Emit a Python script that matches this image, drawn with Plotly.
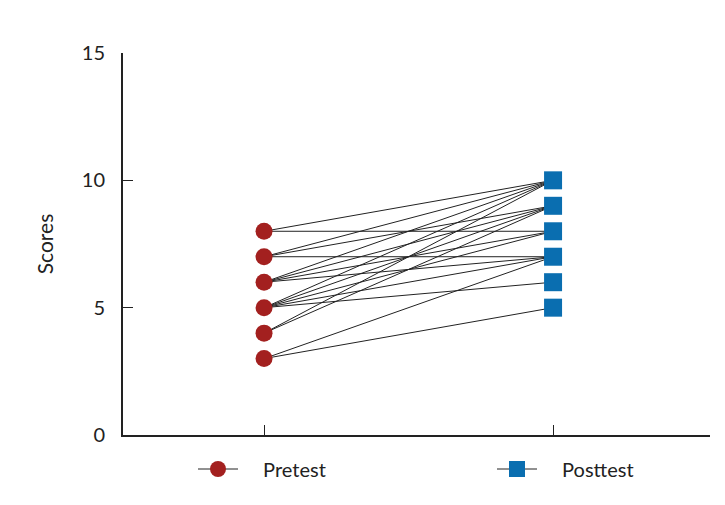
import plotly.graph_objects as go

# Data: paired pretest -> posttest scores
groups = ["Pretest", "Posttest"]
pre_scores = [8, 8, 7, 7, 7, 6, 6, 6, 6, 5, 5, 5, 5, 5, 4, 4, 3, 3]
post_scores = [10, 8, 10, 9, 7, 10, 9, 8, 7, 10, 9, 8, 7, 6, 10, 9, 7, 5]
y_ticks = [0, 5, 10, 15]

RED = "#A3201F"
BLUE = "#0A6EB0"
FONT = "Lato"
GAP = "\u2003\u00a0"

fig = go.Figure()

# connecting lines
lx, ly = [], []
for a, b in zip(pre_scores, post_scores):
    lx += [0, 1, None]
    ly += [a, b, None]
fig.add_trace(go.Scatter(x=lx, y=ly, mode="lines",
                         line=dict(color="#222222", width=1),
                         showlegend=False, hoverinfo="skip"))

pre_u = sorted(set(pre_scores))
post_u = sorted(set(post_scores))
fig.add_trace(go.Scatter(x=[0] * len(pre_u), y=pre_u, mode="markers",
                         marker=dict(symbol="circle", size=17, color=RED),
                         showlegend=False))
fig.add_trace(go.Scatter(x=[1] * len(post_u), y=post_u, mode="markers",
                         marker=dict(symbol="square", size=18, color=BLUE),
                         showlegend=False))

# legend entries
fig.add_trace(go.Scatter(x=[None], y=[None], mode="lines+markers", name=GAP + groups[0],
                         line=dict(color="#222222", width=1), legend="legend",
                         marker=dict(symbol="circle", size=17, color=RED)))
fig.add_trace(go.Scatter(x=[None], y=[None], mode="lines+markers", name=GAP + groups[1],
                         line=dict(color="#222222", width=1), legend="legend2",
                         marker=dict(symbol="square", size=18, color=BLUE)))

leg_common = dict(orientation="h", xref="container", yref="container",
                  xanchor="left", y=1 - 461 / 505, yanchor="middle",
                  itemwidth=40,
                  font=dict(family=FONT, size=20, color="#222222"),
                  bgcolor="rgba(0,0,0,0)")

fig.update_layout(
    width=725, height=505,
    margin=dict(l=115, r=23, t=45, b=78, autoexpand=False),
    paper_bgcolor="white", plot_bgcolor="white",
    font=dict(family=FONT, size=20, color="#222222"),
    showlegend=True,
    legend=dict(x=185 / 725, **leg_common),
    legend2=dict(x=484 / 725, **leg_common),
)
fig.update_xaxes(range=[-0.488, 1.543], tickvals=[0, 1], ticktext=["", ""],
                 ticks="inside", ticklen=10, tickwidth=1, tickcolor="#222222",
                 showline=True, linecolor="#222222", linewidth=2,
                 showgrid=False, zeroline=False, automargin=False)
fig.update_yaxes(range=[0, 15], tickvals=y_ticks,
                 ticks="inside", ticklen=10, tickwidth=1, tickcolor="#222222",
                 showline=True, linecolor="#222222", linewidth=2,
                 showgrid=False, zeroline=False, ticklabelstandoff=12,
                 automargin=False,
                 title=dict(text="Scores", standoff=22,
                            font=dict(family=FONT, size=21)),
                 tickfont=dict(family=FONT, size=20))

fig.write_html("out.html")
